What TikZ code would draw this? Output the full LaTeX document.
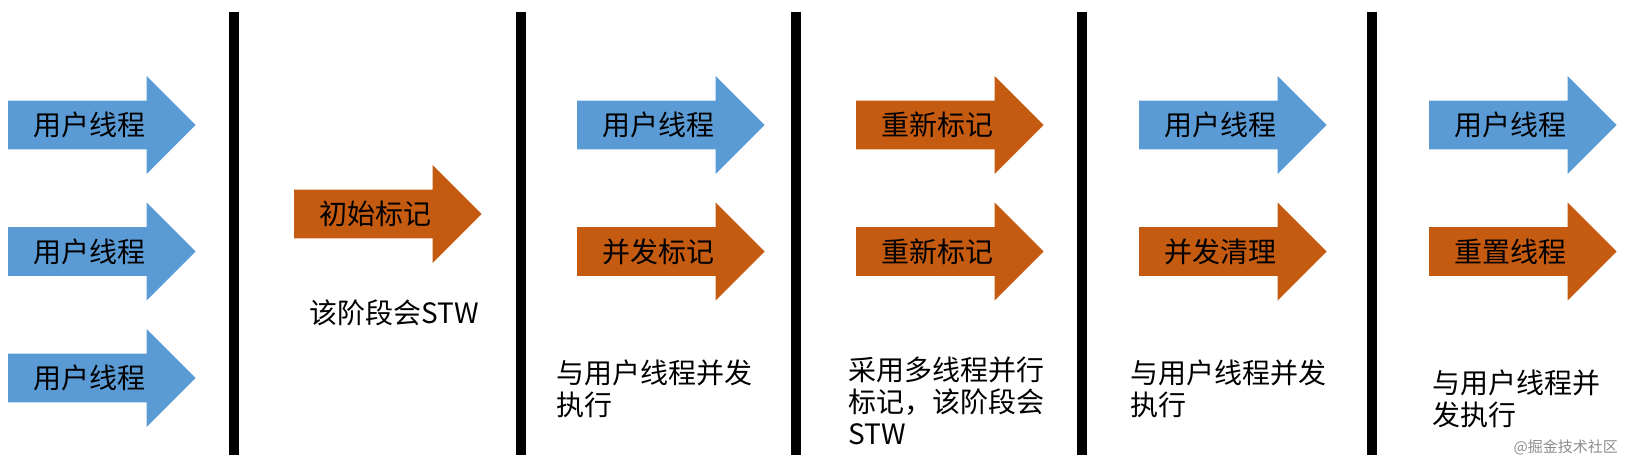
\documentclass[tikz,border=0pt]{standalone}
\usepackage{fontspec}
\setmainfont{Noto Sans CJK SC}
\usepackage{tikz}
\usetikzlibrary{shapes.arrows, positioning}
\definecolor{userblue}{RGB}{91,155,213}
\definecolor{gcorange}{RGB}{197,90,17}

\begin{document}
\begin{tikzpicture}[x=1pt, y=-1pt,
    every node/.style={font=\fontsize{28}{32}\selectfont},
    phase/.style={single arrow, fill=#1, draw=none, minimum height=187.5, minimum width=98,
        single arrow head extend=24.85, single arrow head indent=0pt, inner sep=0pt,
        text height=34.75pt, text depth=13.55pt, anchor=tail},
    note/.style={align=left, anchor=west, inner sep=0pt},
    divider/.style={line width=10pt, black}
]
\useasboundingbox (0,0) rectangle (1629,462);

% phase dividers
\foreach \xb in {234,521,796,1082,1372}
    \draw[divider] (\xb,12) -- (\xb,455);

% column 1: user threads
\node[phase=userblue] (u1) at (8,125) {用户线程};
\node[phase=userblue] (u2) at (8,251.5) {用户线程};
\node[phase=userblue] (u3) at (8,378) {用户线程};

% column 2: initial mark
\node[phase=gcorange] (im) at (294,214) {初始标记};
\node[note] (imnote) at (309,313) {该阶段会STW};

% column 3: concurrent mark
\node[phase=userblue] (cu) at (577,125) {用户线程};
\node[phase=gcorange] (cm) at (577,251.5) {并发标记};
\node[note] (cmnote) at (556,389) {与用户线程并发\\执行};

% column 4: remark
\node[phase=gcorange] (rm1) at (856,125) {重新标记};
\node[phase=gcorange] (rm2) at (856,251.5) {重新标记};
\node[note] (rmnote) at (848,401) {采用多线程并行\\标记，该阶段会\\STW};

% column 5: concurrent sweep
\node[phase=userblue] (su) at (1139,125) {用户线程};
\node[phase=gcorange] (cs) at (1139,251.5) {并发清理};
\node[note] (csnote) at (1130,389) {与用户线程并发\\执行};

% column 6: reset
\node[phase=userblue] (ru) at (1429,125) {用户线程};
\node[phase=gcorange] (rt) at (1429,251.5) {重置线程};
\node[note] (rtnote) at (1432,399) {与用户线程并\\发执行};

\node[anchor=east, inner sep=0pt, font=\fontsize{15}{17}\selectfont, text=black!45] (mark) at (1618,447) {@掘金技术社区};
\end{tikzpicture}
\end{document}
